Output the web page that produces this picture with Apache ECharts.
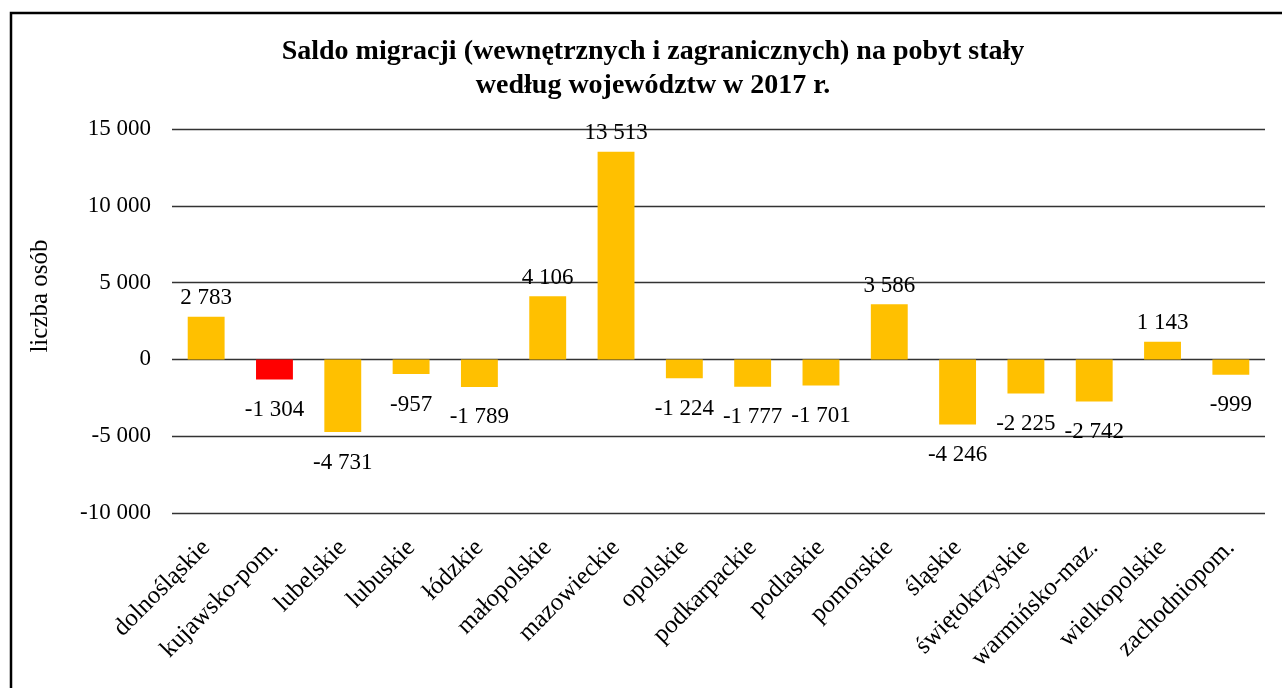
<!DOCTYPE html>
<html>
<head>
<meta charset="utf-8">
<script src="https://cdn.jsdelivr.net/npm/echarts@6/dist/echarts.min.js"></script>
<style>
  html, body { margin: 0; padding: 0; background: #fff; }
  #charts { width: 1282px; height: 688px; }
</style>
</head>
<body>
<div id="charts"></div>
<script>
// dane z wykresu
var wojewodztwa = [
  "dolnośląskie", "kujawsko-pom.", "lubelskie", "lubuskie", "łódzkie",
  "małopolskie", "mazowieckie", "opolskie", "podkarpackie", "podlaskie",
  "pomorskie", "śląskie", "świętokrzyskie", "warmińsko-maz.", "wielkopolskie",
  "zachodniopom."
];
var saldo = [2783, -1304, -4731, -957, -1789, 4106, 13513, -1224, -1777, -1701, 3586, -4246, -2225, -2742, 1143, -999];
var wyroznione = "kujawsko-pom.";
var yTicks = [-10000, -5000, 0, 5000, 10000, 15000];

var fontSerif = "'Liberation Serif', 'Times New Roman', serif";

function fmt(v) {
  var s = String(Math.abs(v)).replace(/\B(?=(\d{3})+(?!\d))/g, " ");
  return (v < 0 ? "-" : "") + s;
}

var myChart = echarts.init(document.getElementById("charts"));

var barData = saldo.map(function (v, i) {
  return {
    value: v,
    itemStyle: { color: wojewodztwa[i] === wyroznione ? "#FF0000" : "#FFC000" },
    label: v < 0 ? { position: "bottom", distance: 19 } : { position: "top", distance: 7 }
  };
});

myChart.setOption({
  animation: false,
  title: {
    text: "Saldo migracji (wewnętrznych i zagranicznych) na pobyt stały\nwedług województw w 2017 r.",
    left: 648,
    top: 30,
    textAlign: "center",
    textStyle: {
      fontFamily: fontSerif,
      fontWeight: "bold",
      fontSize: 28,
      lineHeight: 34,
      color: "#000"
    }
  },
  graphic: [
    {
      type: "rect",
      shape: { x: 11, y: 13, width: 1300, height: 700 },
      style: { fill: "none", stroke: "#000", lineWidth: 2.5 },
      silent: true
    },
    {
      type: "text",
      x: 40,
      y: 296,
      rotation: Math.PI / 2,
      style: {
        text: "liczba osób",
        font: "25px " + fontSerif,
        fill: "#000",
        align: "center",
        verticalAlign: "middle"
      }
    }
  ],
  grid: { left: 172, right: 17, top: 129, bottom: 175, containLabel: false },
  xAxis: {
    type: "category",
    data: wojewodztwa,
    axisLine: { show: false, onZero: false },
    axisTick: { show: false },
    axisLabel: {
      interval: 0,
      rotate: 45,
      margin: 31,
      fontFamily: fontSerif,
      fontSize: 25,
      color: "#000"
    }
  },
  yAxis: {
    type: "value",
    min: yTicks[0],
    max: yTicks[yTicks.length - 1],
    interval: 5000,
    axisLine: { show: false },
    axisTick: { show: false },
    splitLine: { lineStyle: { color: "#333", width: 1.3 } },
    axisLabel: {
      margin: 21,
      fontFamily: fontSerif,
      fontSize: 23,
      color: "#000",
      formatter: fmt
    }
  },
  series: [
    {
      type: "bar",
      data: barData,
      barWidth: "54%",
      label: {
        show: true,
        fontFamily: fontSerif,
        fontSize: 23,
        color: "#000",
        formatter: function (p) { return fmt(p.value); }
      }
    }
  ]
});
</script>
</body>
</html>
